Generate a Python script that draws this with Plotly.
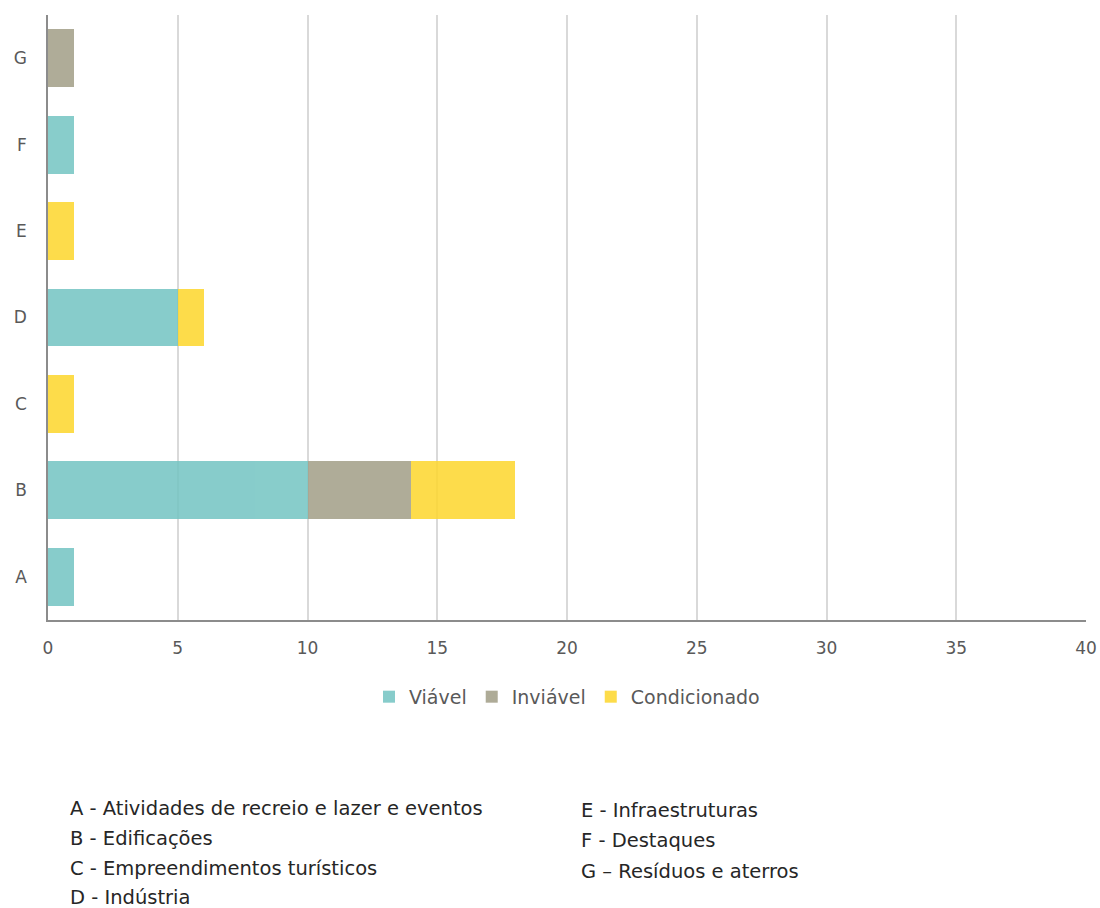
import plotly.graph_objects as go

categories = ["A", "B", "C", "D", "E", "F", "G"]
viavel = [1, 10, 0, 5, 0, 1, 0]
inviavel = [0, 4, 0, 0, 0, 0, 1]
condicionado = [0, 4, 1, 1, 1, 0, 0]
x_ticks = [0, 5, 10, 15, 20, 25, 30, 35, 40]

notes_left = ["A - Atividades de recreio e lazer e eventos", "B - Edificações",
              "C - Empreendimentos turísticos", "D - Indústria"]
notes_right = ["E - Infraestruturas", "F - Destaques", "G – Resíduos e aterros"]

FONT = "DejaVu Sans"

fig = go.Figure()
for name, vals, col in [("Viável", viavel, "#73C4C2"),
                        ("Inviável", inviavel, "#A19D86"),
                        ("Condicionado", condicionado, "#FDD62B")]:
    fig.add_trace(go.Bar(y=categories, x=vals, name=name, orientation="h",
                         marker=dict(color=col, line=dict(width=0)), opacity=0.85))

fig.update_layout(
    barmode="stack", bargap=0.33,
    width=1100, height=908,
    margin=dict(l=48, r=14, t=15, b=288, autoexpand=False),
    plot_bgcolor="white", paper_bgcolor="white",
    font=dict(family=FONT, color="#595959", size=17),
    legend=dict(orientation="h", x=0.5, xanchor="center", y=-0.127, yanchor="middle",
                font=dict(size=19, color="#595959"), traceorder="normal",
                itemwidth=30, itemsizing="constant"),
    xaxis=dict(range=[0, 40], tickvals=x_ticks, showgrid=True, gridcolor="#D9D9D9",
               gridwidth=1.5, showline=True, linecolor="#8C8C8C", linewidth=2,
               zeroline=False, ticks="", ticklabelstandoff=12, automargin=False,
               tickfont=dict(size=17, color="#595959")),
    yaxis=dict(categoryorder="array", categoryarray=categories, showgrid=False,
               showline=True, linecolor="#8C8C8C", linewidth=1.5, ticks="",
               ticklabelstandoff=16, automargin=False,
               tickfont=dict(size=17, color="#595959")),
)

def py(pix):
    return -(pix - 620) / 605

for i, t in enumerate(notes_left):
    fig.add_annotation(text=t, xref="paper", yref="paper", x=(68 - 48) / 1038,
                       y=py(808 + 30 * i), xanchor="left", yanchor="middle",
                       showarrow=False, font=dict(size=19.5, color="#262626", family=FONT))
for i, t in enumerate(notes_right):
    fig.add_annotation(text=t, xref="paper", yref="paper", x=(579 - 48) / 1038,
                       y=py(810 + 30.5 * i), xanchor="left", yanchor="middle",
                       showarrow=False, font=dict(size=19.5, color="#262626", family=FONT))

fig.write_html("out.html", config={"displayModeBar": False},
               post_script="document.body.style.margin='0';document.body.style.overflow='hidden';")
